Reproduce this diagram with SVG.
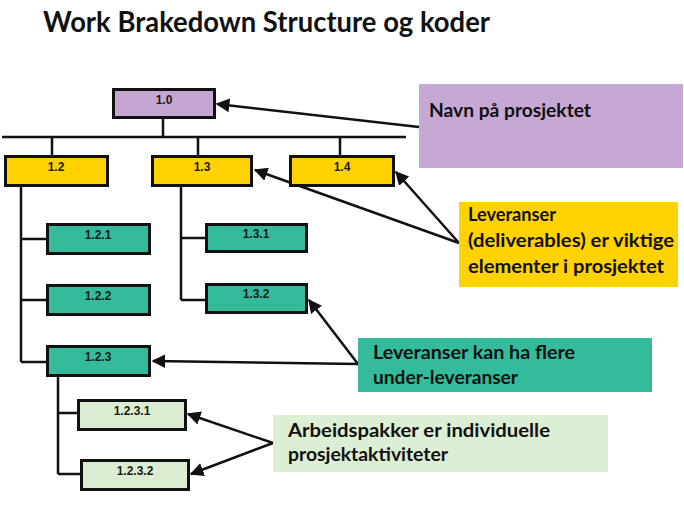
<svg xmlns="http://www.w3.org/2000/svg" width="684" height="517" viewBox="0 0 684 517">
<style>
.node{stroke:#111;stroke-width:3}
.l0{fill:#C5A6D3}
.l1{fill:#FFD200}
.l2{fill:#33BB9C}
.l3{fill:#DAEDD0}
.nl{font-family:"Liberation Sans",Arial,sans-serif;font-weight:bold;font-size:12px;fill:#1a1a1a;text-anchor:middle}
.tree{stroke:#111;stroke-width:2.5;fill:none}
.arr{stroke:#111;stroke-width:2.5;fill:none;marker-end:url(#ah)}
.ct{font-family:Lato,"Open Sans",sans-serif;font-weight:bold;font-size:19px;fill:#111}
</style>
<defs>
<marker id="ah" viewBox="0 0 10 10" refX="9" refY="5" markerWidth="5.5" markerHeight="5.5" orient="auto" markerUnits="strokeWidth">
<path d="M0,0 L10,5 L0,10 z" fill="#111"/>
</marker>
</defs>
<rect width="684" height="517" fill="#fff"/>
<text x="43" y="32" font-family="Lato,'Open Sans',sans-serif" font-weight="bold" font-size="28" fill="#111" textLength="447" lengthAdjust="spacingAndGlyphs">Work Brakedown Structure og koder</text>

<g id="connectors">
<path class="tree" d="M163,119 V137 M2,137 H406 M52,137 V155 M198,137 V155 M340,137 V155"/>
<path class="tree" d="M21,187 V362 M21,239 H46 M21,300 H46 M21,362 H46"/>
<path class="tree" d="M181,187 V300 M181,238 H205 M181,300 H205"/>
<path class="tree" d="M58,377 V474 M58,413 H77 M58,474 H80"/>
<line class="arr" x1="419" y1="127" x2="217" y2="104"/>
<line class="arr" x1="459" y1="243" x2="255" y2="170"/>
<line class="arr" x1="459" y1="243" x2="396" y2="172"/>
<line class="arr" x1="358" y1="364" x2="153" y2="361"/>
<line class="arr" x1="358" y1="364" x2="309" y2="300"/>
<line class="arr" x1="273" y1="443" x2="188" y2="414"/>
<line class="arr" x1="273" y1="443" x2="191" y2="474"/>
</g>

<g id="n1_0"><rect class="node l0" x="113.5" y="89.5" width="101" height="28"/><text class="nl" x="164" y="104">1.0</text></g>
<g id="n1_2"><rect class="node l1" x="5.5" y="156.5" width="102" height="29"/><text class="nl" x="56" y="171">1.2</text></g>
<g id="n1_3"><rect class="node l1" x="152.5" y="156.5" width="99" height="29"/><text class="nl" x="202" y="171">1.3</text></g>
<g id="n1_4"><rect class="node l1" x="290.5" y="156.5" width="103" height="29"/><text class="nl" x="342" y="171">1.4</text></g>
<g id="n1_2_1"><rect class="node l2" x="47.5" y="224.5" width="102" height="29"/><text class="nl" x="98" y="239">1.2.1</text></g>
<g id="n1_2_2"><rect class="node l2" x="47.5" y="285.5" width="102" height="29"/><text class="nl" x="98" y="300">1.2.2</text></g>
<g id="n1_2_3"><rect class="node l2" x="47.5" y="346.5" width="102" height="29"/><text class="nl" x="98" y="361">1.2.3</text></g>
<g id="n1_3_1"><rect class="node l2" x="206.5" y="224.5" width="100" height="27"/><text class="nl" x="256" y="238">1.3.1</text></g>
<g id="n1_3_2"><rect class="node l2" x="206.5" y="284.5" width="100" height="28"/><text class="nl" x="256" y="298">1.3.2</text></g>
<g id="n1_2_3_1"><rect class="node l3" x="78.5" y="400.5" width="107" height="29"/><text class="nl" x="132" y="415">1.2.3.1</text></g>
<g id="n1_2_3_2"><rect class="node l3" x="81.5" y="460.5" width="107" height="29"/><text class="nl" x="135" y="475">1.2.3.2</text></g>

<g id="c_navn"><rect x="419" y="84" width="264" height="84" fill="#C5A8D3"/><text class="ct" x="429" y="117" textLength="162" lengthAdjust="spacingAndGlyphs">Navn på prosjektet</text></g>
<g id="c_leveranser"><rect x="459" y="202" width="219" height="85" fill="#FFD200"/>
<text class="ct" x="468" y="221" textLength="88" lengthAdjust="spacingAndGlyphs">Leveranser</text>
<text class="ct" x="468" y="247" textLength="206" lengthAdjust="spacingAndGlyphs">(deliverables) er viktige</text>
<text class="ct" x="468" y="273" textLength="196" lengthAdjust="spacingAndGlyphs">elementer i prosjektet</text></g>
<g id="c_under"><rect x="358" y="338" width="294" height="54" fill="#33BB9C"/>
<text class="ct" x="373" y="359" textLength="202" lengthAdjust="spacingAndGlyphs">Leveranser kan ha flere</text>
<text class="ct" x="373" y="384" textLength="145" lengthAdjust="spacingAndGlyphs">under-leveranser</text></g>
<g id="c_arbeid"><rect x="273" y="415" width="335" height="57" fill="#DCEED3"/>
<text class="ct" x="288" y="437" textLength="262" lengthAdjust="spacingAndGlyphs">Arbeidspakker er individuelle</text>
<text class="ct" x="288" y="461" textLength="160" lengthAdjust="spacingAndGlyphs">prosjektaktiviteter</text></g>
</svg>
